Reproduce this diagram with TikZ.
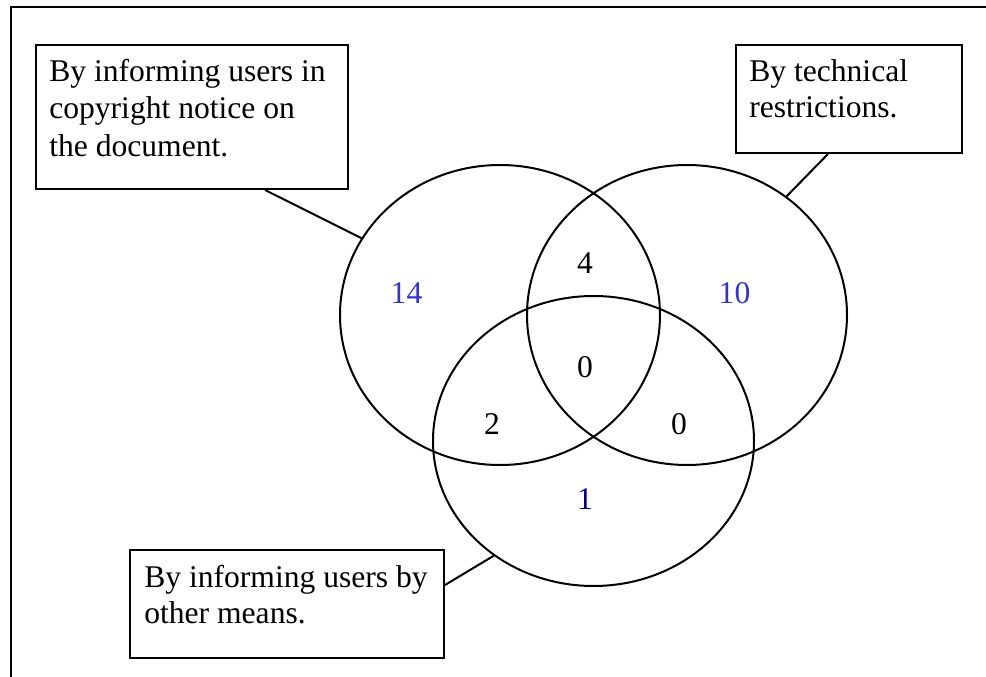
\documentclass[tikz,border=0pt]{standalone}
\usepackage{fontspec}
\setmainfont{Liberation Serif}
\usetikzlibrary{shapes.geometric,calc}
\definecolor{numblue}{RGB}{51,51,204}
\definecolor{numnavy}{RGB}{0,0,128}
\begin{document}
\begin{tikzpicture}[x=0.75pt,y=-0.75pt,
  txt/.style={anchor=base west,inner sep=0pt,font=\fontsize{23.7pt}{28pt}\selectfont},
  num/.style={anchor=base,inner sep=0pt,font=\fontsize{23.7pt}{28pt}\selectfont},
  labelbox/.style={draw,line width=1.5pt,rectangle,inner sep=0pt},
  venn/.style={draw,line width=1.5pt,ellipse,inner sep=0pt},
  conn/.style={line width=1.5pt}]
\useasboundingbox (0,0) rectangle (986,677);
\fill[white] (0,0) rectangle (986,677);
% outer frame (extends beyond the right and bottom edges)
\draw[line width=2.2pt] (11,677) -- (11,7) -- (986,7);
% ellipses
\node[venn,minimum width=240pt,minimum height=225pt] (L) at (500,315) {};
\node[venn,minimum width=240pt,minimum height=225pt] (R) at (687,315) {};
\node[venn,minimum width=240.75pt,minimum height=217.5pt] (B) at (593.5,441) {};
% label boxes
\node[labelbox,minimum width=234pt,minimum height=108pt] (box1) at (192,117) {};
\node[labelbox,minimum width=169.5pt,minimum height=81pt] (box2) at (849,99) {};
\node[labelbox,minimum width=235.5pt,minimum height=81pt] (box3) at (287,604) {};
% texts
\node[txt] (t1a) at (49,82) {By informing users in};
\node[txt] (t1b) at (49,119) {copyright notice on};
\node[txt] (t1c) at (49,157) {the document.};
\node[txt] (t2a) at (749,82) {By technical};
\node[txt] (t2b) at (749,118) {restrictions.};
\node[txt] (t3a) at (144,587) {By informing users by};
\node[txt] (t3b) at (144,623) {other means.};
% connectors
\coordinate (c1) at ($(box1.south)+(73,0)$);
\coordinate (c2) at ($(box2.south)+(-21,0)$);
\coordinate (c3) at ($(box3.east)+(0,-19)$);
\draw[conn] (c1) -- (L.151);
\draw[conn] (c2) -- (R.50);
\draw[conn] (c3) -- (B.-131);
% numbers
\node[num,text=numblue] (n14) at (406.5,304) {14};
\node[num,text=numblue] (n10) at (734.5,304) {10};
\node[num] (n4) at (585,274) {4};
\node[num] (n0a) at (585,378) {0};
\node[num] (n2) at (492,435) {2};
\node[num] (n0b) at (679,435) {0};
\node[num,text=numnavy] (n1) at (585,509) {1};
\end{tikzpicture}
\end{document}
